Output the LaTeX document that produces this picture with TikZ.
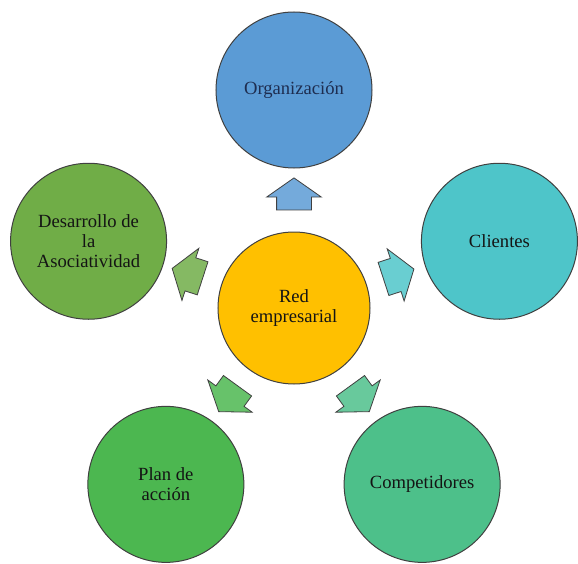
\documentclass[tikz,border=0pt]{standalone}
\usepackage{fontspec}
\setmainfont{Liberation Serif}
\usetikzlibrary{shapes.arrows, positioning}

\definecolor{orgblue}{RGB}{91,155,213}
\definecolor{clientteal}{RGB}{78,197,201}
\definecolor{compgreen}{RGB}{77,192,138}
\definecolor{plangreen}{RGB}{76,183,80}
\definecolor{devgreen}{RGB}{112,173,71}
\definecolor{redgold}{RGB}{255,192,0}
\definecolor{navytext}{RGB}{30,45,80}

\begin{document}
\begin{tikzpicture}[
    x=1pt, y=1pt,
    every node/.style={font=\fontsize{18.6}{20}\selectfont, align=center},
    bubble/.style={circle, draw=black!75, line width=1pt, minimum size=156pt, inner sep=0pt, text=black!92},
    hub/.style={bubble, minimum size=152pt},
    linkarrow/.style={single arrow, draw=black!75, line width=0.8pt, minimum height=32pt,
        inner xsep=0pt, inner ysep=17pt, single arrow head extend=10pt, single arrow tip angle=110}]

\useasboundingbox (-294,-255) rectangle (284,308);

\node[hub, fill=redgold] (red) at (0,0) {Red\\empresarial};

\node[bubble, fill=orgblue, text=navytext] (organizacion) at (90:218) {Organización};
\node[bubble, fill=clientteal] (clientes) at (18:216) {Clientes};
\node[bubble, fill=compgreen] (competidores) at (-54:218) {Competidores};
\node[bubble, fill=plangreen] (plan) at (-126:218) {Plan de\\acción};
\node[bubble, fill=devgreen] (desarrollo) at (162:216) {Desarrollo de\\la\\Asociatividad};

% flechas desde el centro
\node[linkarrow, fill=orgblue!85!white, rotate=90] (toorg) at (90:108) {};
\node[linkarrow, fill=clientteal!85!white, rotate=18] (tocli) at (18:104) {};
\node[linkarrow, fill=compgreen!85!white, rotate=-54] (tocomp) at (-54:106) {};
\node[linkarrow, fill=plangreen!85!white, rotate=-126] (toplan) at (-126:106) {};
\node[linkarrow, fill=devgreen!85!white, rotate=162] (todes) at (162:106) {};

\end{tikzpicture}
\end{document}
